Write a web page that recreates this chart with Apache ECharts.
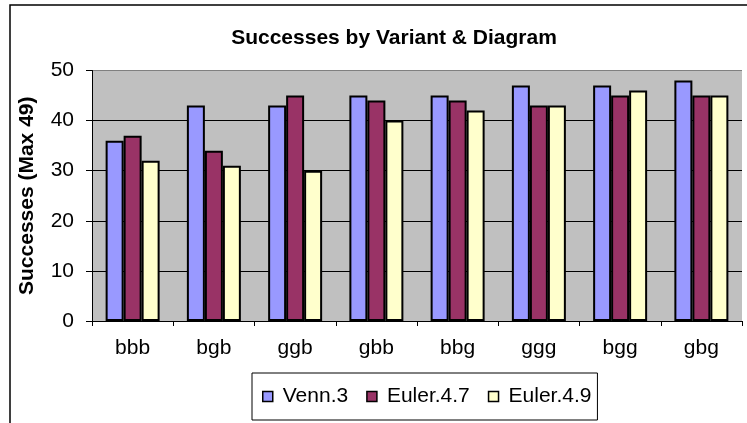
<!DOCTYPE html>
<html>
<head>
<meta charset="utf-8">
<script src="https://cdn.jsdelivr.net/npm/echarts@6/dist/echarts.min.js"></script>
<style>
  html, body { margin: 0; padding: 0; background: #fff; }
  #myChart { width: 747px; height: 423px; }
</style>
</head>
<body>
<div id="myChart"></div>
<script>
// data
var categories = ['bbb', 'bgb', 'ggb', 'gbb', 'bbg', 'ggg', 'bgg', 'gbg'];
var venn3 = [36, 43, 43, 45, 45, 47, 47, 48];
var euler47 = [37, 34, 45, 44, 44, 43, 45, 45];
var euler49 = [32, 31, 30, 40, 42, 43, 46, 45];
var seriesNames = ['Venn.3', 'Euler.4.7', 'Euler.4.9'];
var yTicks = [0, 10, 20, 30, 40, 50];

var font = 'Liberation Sans, Arial, sans-serif';

function bar(name, data, color) {
  return {
    name: name,
    type: 'bar',
    data: data,
    barWidth: 18,
    barGap: '0%',
    itemStyle: { color: color, borderColor: '#000', borderWidth: 2 }
  };
}

var option = {
  animation: false,
  backgroundColor: '#fff',
  title: {
    text: 'Successes by Variant & Diagram',
    left: 389,
    top: 23,
    textAlign: 'center',
    textStyle: { fontFamily: font, fontSize: 21, fontWeight: 'bold', color: '#000' }
  },
  graphic: [{
    // outer chart frame (cut off at right and bottom)
    type: 'rect',
    shape: { x: 10, y: 5, width: 800, height: 500 },
    style: { fill: null, stroke: '#000', lineWidth: 1.5 },
    silent: true
  }],
  legend: {
    data: seriesNames,
    left: 252,
    top: 373,
    padding: [13, 6, 13, 10],
    itemGap: 18,
    itemWidth: 10,
    itemHeight: 10,
    icon: 'rect',
    borderColor: '#000',
    borderWidth: 1,
    itemStyle: { borderWidth: 1.5, borderColor: '#000' },
    textStyle: { fontFamily: font, fontSize: 21, color: '#000', padding: [0, 0, 0, 5] }
  },
  grid: {
    left: 92,
    right: 5,
    top: 70.5,
    bottom: 102,
    show: true,
    backgroundColor: '#C0C0C0',
    borderWidth: 0
  },
  xAxis: {
    type: 'category',
    data: categories,
    axisLine: { lineStyle: { color: '#000', width: 1 } },
    axisTick: { show: true, length: 5, lineStyle: { color: '#000' } },
    axisLabel: { fontFamily: font, fontSize: 21, color: '#000', margin: 17 }
  },
  yAxis: {
    type: 'value',
    min: yTicks[0],
    max: yTicks[yTicks.length - 1],
    interval: 10,
    name: 'Successes (Max 49)',
    nameLocation: 'middle',
    nameGap: 54,
    nameTextStyle: { fontFamily: font, fontSize: 21, fontWeight: 'bold', color: '#000' },
    axisLine: { show: true, lineStyle: { color: '#000', width: 1 } },
    axisTick: { show: true, length: 6, lineStyle: { color: '#000' } },
    axisLabel: { fontFamily: font, fontSize: 21, color: '#000', margin: 18 },
    splitLine: {
      show: true,
      lineStyle: { color: ['#000', '#000', '#000', '#000', '#000', '#808080'], width: 1 }
    }
  },
  series: [
    bar(seriesNames[0], venn3, '#9999FF'),
    bar(seriesNames[1], euler47, '#993366'),
    bar(seriesNames[2], euler49, '#FFFFCC')
  ]
};

var myChart = echarts.init(document.getElementById('myChart'));
myChart.setOption(option);
</script>
</body>
</html>
